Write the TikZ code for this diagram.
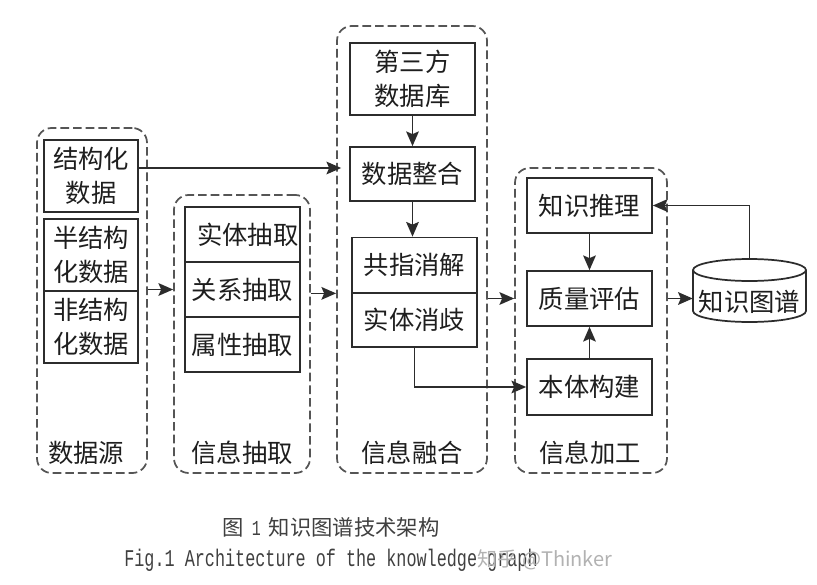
\documentclass[tikz,border=0pt]{standalone}
\usepackage{fontspec}
\setmainfont{Noto Sans CJK SC}
\newfontfamily\capmono[FakeStretch=0.7]{Liberation Mono}
\usetikzlibrary{arrows.meta}
\definecolor{linec}{HTML}{2c2c2c}
\definecolor{dashc}{HTML}{555555}
\definecolor{textc}{HTML}{1e1e1e}
\begin{document}
\begin{tikzpicture}[x=0.75pt,y=-0.75pt,
    every node/.style={text=textc,font=\fontsize{19}{25}\selectfont},
    box/.style={draw=linec,line width=1.3pt,inner sep=0pt,align=center},
    group/.style={draw=dashc,line width=1.3pt,dash pattern=on 6.5pt off 3pt,rounded corners=11pt,inner sep=0pt},
    arr/.style={draw=linec,line width=1.3pt,-{Stealth[length=11pt,width=9.5pt,inset=2pt]}}]
    \useasboundingbox[fill=white] (0,0) rectangle (817,585);
    \node[group,minimum width=82.5pt,minimum height=258.75pt] (ysj) at (92,300.5) {};
    \node[group,minimum width=102pt,minimum height=208.5pt] (xcq) at (242,334) {};
    \node[group,minimum width=112.5pt,minimum height=335.25pt] (xrh) at (412,249.5) {};
    \node[group,minimum width=114pt,minimum height=228.75pt] (xjg) at (591,320.5) {};
    \node (ysjl) at (86,453) {数据源};
    \node (xcql) at (242,453) {信息抽取};
    \node (xrhl) at (412,453) {信息融合};
    \node (xjgl) at (590,453) {信息加工};
    \node[box,minimum width=70.5pt,minimum height=54pt] (sjg) at (91,176) {结构化\\数据};
    \node[box,minimum width=70.5pt,minimum height=54pt] (bjg) at (91,255) {半结构\\化数据};
    \node[box,minimum width=70.5pt,minimum height=54pt] (fjg) at (91,327) {非结构\\化数据};
    \node[box,minimum width=86.25pt,minimum height=41.25pt] (stq) at (242.5,234.5) {\hspace{8pt}实体抽取};
    \node[box,minimum width=86.25pt,minimum height=41.25pt] (gxq) at (242.5,289.5) {关系抽取};
    \node[box,minimum width=86.25pt,minimum height=41.25pt] (sxq) at (242.5,344.5) {属性抽取};
    \node[box,minimum width=93.75pt,minimum height=54pt] (dsf) at (412.5,79) {第三方\\数据库};
    \node[box,minimum width=93.75pt,minimum height=40.5pt] (sjzh) at (412.5,174) {数据整合};
    \node[box,minimum width=93.75pt,minimum height=41.25pt] (gzxj) at (414.5,265) {共指消解};
    \node[box,minimum width=93.75pt,minimum height=40.5pt] (stxq) at (414.5,320) {实体消歧};
    \node[box,minimum width=93.75pt,minimum height=41.25pt] (zstl) at (589.5,205.5) {知识推理};
    \node[box,minimum width=93.75pt,minimum height=41.25pt] (zlpg) at (589.5,298.5) {质量评估};
    \node[box,minimum width=93.75pt,minimum height=42pt] (btgj) at (589.5,387) {本体构建};
    \draw[linec,line width=1.3pt] (693,270) -- (693,311) arc[start angle=180,end angle=0,x radius=56.5,y radius=11] -- (806,270);
    \draw[linec,line width=1.3pt] (749.5,270) ellipse[x radius=56.5,y radius=11];
    \node[inner sep=0pt,minimum width=84.75pt] (zstp) at (749.5,302) {知识图谱};
    \coordinate (zstpt) at (749.5,259);
    \draw[arr,shorten >=6pt] ([yshift=6pt]sjg.east) -- ([yshift=6pt]sjg.east -| sjzh.west);
    \draw[arr] (ysj.east |- gxq) -- (xcq.west |- gxq);
    \draw[arr] (xcq.east |- gzxj.south) -- (xrh.west |- gzxj.south);
    \draw[arr] (dsf) -- (sjzh);
    \draw[arr] (sjzh.south) -- (sjzh.south |- gzxj.north);
    \draw[arr] (stxq.south) |- (btgj.west);
    \draw[arr] (xrh.east |- zlpg) -- (xjg.west |- zlpg);
    \draw[arr] (zstl) -- (zlpg);
    \draw[arr] (btgj) -- (zlpg);
    \draw[arr] (xjg.east |- zlpg) -- (zstp.west |- zlpg);
    \draw[arr] (zstpt) |- (zstl.east);
    \node[font=\fontsize{16}{18}\selectfont,text=black!75] (capzh) at (331,527) {图\hspace{6pt}{\capmono 1}\hspace{6pt}知识图谱技术架构};
    \node[font=\fontsize{18}{20}\selectfont\capmono,text=black!75] (capen) at (331,560) {Fig.1 Architecture of the knowledge graph};
    \node[font=\fontsize{15}{18}\selectfont,text=black!30] (wm) at (545,560) {知乎 @Thinker};
\end{tikzpicture}
\end{document}
